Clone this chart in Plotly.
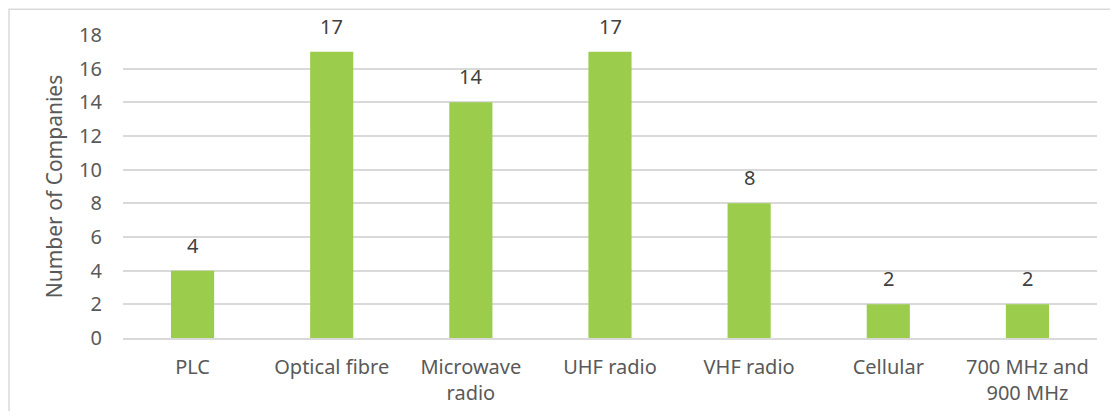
import plotly.graph_objects as go

categories = ["PLC", "Optical fibre", "Microwave<br>radio", "UHF radio", "VHF radio", "Cellular", "700 MHz and<br>900 MHz"]
companies = [4, 17, 14, 17, 8, 2, 2]
y_ticks = [0, 2, 4, 6, 8, 10, 12, 14, 16, 18]

font_name = "Noto Sans, sans-serif"

fig = go.Figure()
fig.add_trace(go.Bar(
    x=categories,
    y=companies,
    marker=dict(color="#9BCC4B", line=dict(width=0)),
))

# value labels above the bars
for cat, val in zip(categories, companies):
    fig.add_annotation(
        x=cat, y=val, text=str(val), showarrow=False,
        yanchor="bottom", yshift=10,
        font=dict(size=20, color="#404040", family=font_name),
    )

# page has an 8px body margin, so the figure is shrunk to fit the window
fig.update_layout(
    width=1102,
    height=403,
    margin=dict(l=115, r=13, t=27, b=73),
    plot_bgcolor="white",
    paper_bgcolor="white",
    bargap=0.69,
    showlegend=False,
    font=dict(family=font_name, color="#595959"),
    shapes=[dict(
        type="rect", xref="paper", yref="paper",
        x0=-0.117, x1=1.03, y0=-0.3, y1=1.085,
        line=dict(color="#d9d9d9", width=1.5),
    )],
)
fig.update_xaxes(
    tickfont=dict(size=20, color="#595959"),
    showgrid=False,
    showline=True,
    linecolor="#d9d9d9",
    linewidth=1.5,
    ticks="",
    ticklabelstandoff=10,
    automargin=False,
)
fig.update_yaxes(
    range=[0, 18],
    tickvals=y_ticks,
    tickfont=dict(size=20, color="#595959"),
    ticklabelstandoff=20,
    title=dict(text="Number of Companies", font=dict(size=21, color="#595959"), standoff=10),
    gridcolor="#d9d9d9",
    gridwidth=1.5,
    zeroline=False,
    ticks="",
    ticklen=0,
    automargin=False,
)

fig.write_html("out.html")
